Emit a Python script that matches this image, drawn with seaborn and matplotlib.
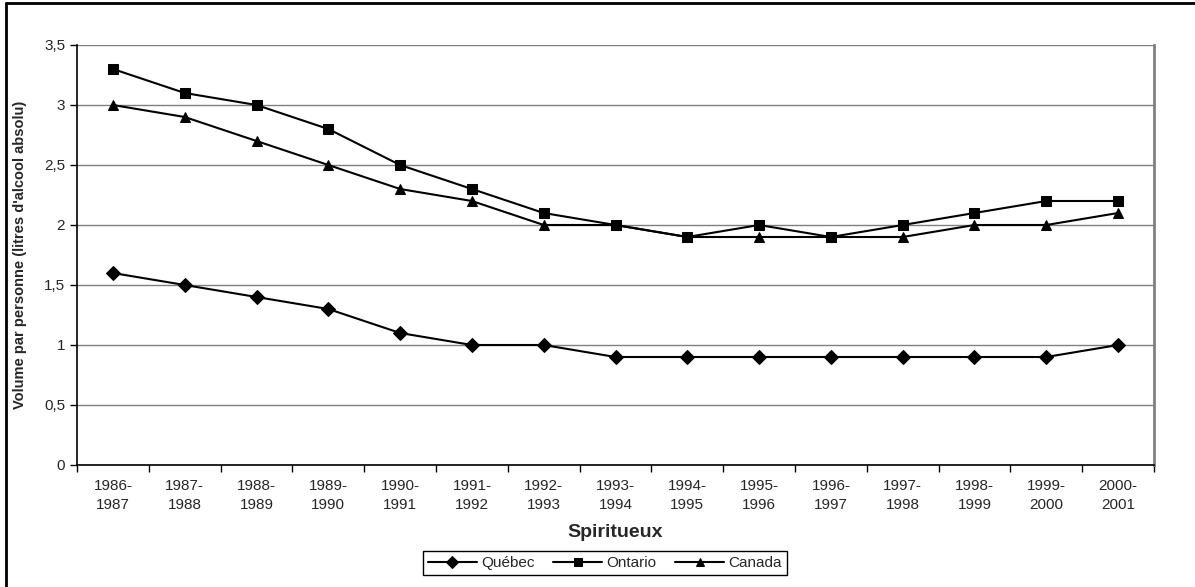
import numpy as np
import pandas as pd
import matplotlib
matplotlib.use("Agg")
import matplotlib.pyplot as plt
import seaborn as sns
from matplotlib.lines import Line2D
from matplotlib.ticker import FuncFormatter, MultipleLocator

# données
periodes = ["1986-\n1987", "1987-\n1988", "1988-\n1989", "1989-\n1990", "1990-\n1991",
            "1991-\n1992", "1992-\n1993", "1993-\n1994", "1994-\n1995", "1995-\n1996",
            "1996-\n1997", "1997-\n1998", "1998-\n1999", "1999-\n2000", "2000-\n2001"]
quebec = [1.6, 1.5, 1.4, 1.3, 1.1, 1.0, 1.0, 0.9, 0.9, 0.9, 0.9, 0.9, 0.9, 0.9, 1.0]
ontario = [3.3, 3.1, 3.0, 2.8, 2.5, 2.3, 2.1, 2.0, 1.9, 2.0, 1.9, 2.0, 2.1, 2.2, 2.2]
canada = [3.0, 2.9, 2.7, 2.5, 2.3, 2.2, 2.0, 2.0, 1.9, 1.9, 1.9, 1.9, 2.0, 2.0, 2.1]
series = ["Québec", "Ontario", "Canada"]

rows = []
for nom, vals in zip(series, [quebec, ontario, canada]):
    for i, v in enumerate(vals):
        rows.append({"pos": i, "periode": periodes[i], "region": nom, "volume": v})
df = pd.DataFrame(rows)

sns.set_theme(style="white")
plt.rcParams['font.family'] = ['Liberation Sans', 'DejaVu Sans']

fig = plt.figure(figsize=(11.95, 5.87), dpi=100)
ax = fig.add_axes([77 / 1195, 1 - 465 / 587, (1154 - 77) / 1195, (465 - 45) / 587])

sns.lineplot(data=df, x="pos", y="volume", hue="region", style="region",
             hue_order=series, style_order=series,
             palette=["black"] * 3, markers=["D", "s", "^"], dashes=False,
             markersize=7, linewidth=1.5, markeredgecolor="black", ax=ax)

ax.set_xlim(-0.5, len(periodes) - 0.5)
ax.set_ylim(0, 3.5)
ax.yaxis.set_major_locator(MultipleLocator(0.5))
ax.yaxis.set_major_formatter(FuncFormatter(lambda v, p: f"{v:g}".replace(".", ",")))
ax.grid(axis="y", color="#808080", linewidth=1)
ax.set_axisbelow(True)

ax.set_xticks(range(len(periodes)))
ax.set_xticklabels(periodes, fontsize=11, linespacing=1.45)
ax.set_xticks(np.arange(-0.5, len(periodes), 1), minor=True)
ax.tick_params(axis="x", which="major", length=0, pad=10)
ax.tick_params(axis="x", which="minor", length=5, width=1, color="black", direction="out", bottom=True)
ax.tick_params(axis="y", length=5, width=1, color="black", direction="out", left=True, labelsize=11)

for s in ["left", "bottom"]:
    ax.spines[s].set_color("black")
    ax.spines[s].set_linewidth(1.2)
ax.spines["right"].set_color("#808080")
ax.spines["right"].set_linewidth(2)
ax.spines["top"].set_visible(False)

ax.set_xlabel("Spiritueux", fontsize=14, fontweight="bold", labelpad=9)
ax.set_ylabel("Volume par personne (litres d'alcool absolu)", fontsize=10.5, fontweight="bold", labelpad=12)

sns.move_legend(ax, "center", bbox_to_anchor=(605 / 1195, 1 - 563 / 587),
                bbox_transform=fig.transFigure, ncol=3, title=None, frameon=True,
                fancybox=False, edgecolor="black", fontsize=11, handlelength=3.2,
                columnspacing=1.2, handletextpad=0.3, borderpad=0.3, borderaxespad=0,
                markerscale=0.85)
leg = ax.get_legend()
leg.get_frame().set_linewidth(1)
leg.get_frame().set_alpha(1)

# cadre du graphique (gauche et haut)
fig.add_artist(Line2D([6 / 1195, 6 / 1195], [0, 1 - 3 / 587], color="black", linewidth=2))
fig.add_artist(Line2D([6 / 1195, 1], [1 - 3 / 587, 1 - 3 / 587], color="black", linewidth=2))

fig.savefig("out.png", dpi=100)
